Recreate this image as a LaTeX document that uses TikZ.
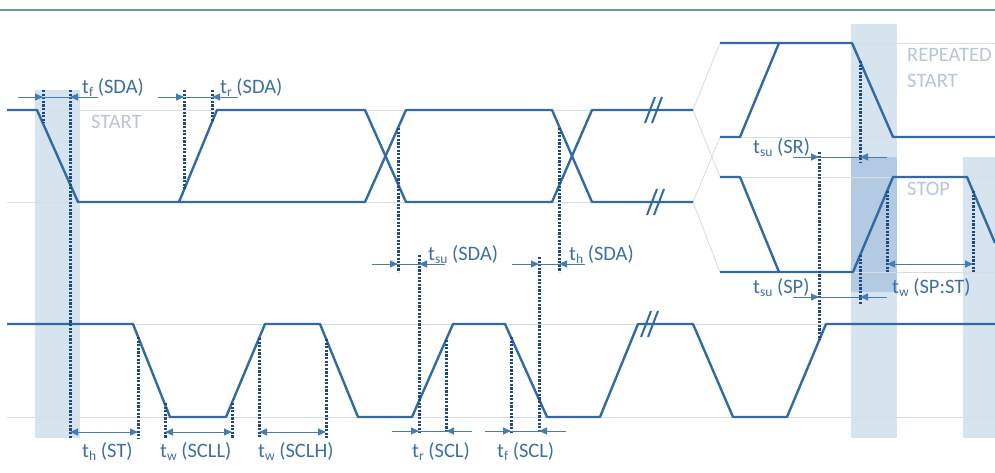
\documentclass[tikz,border=0pt]{standalone}
\usepackage{fontspec}
\setmainfont{Carlito}
\usetikzlibrary{arrows.meta}
\definecolor{sig}{RGB}{50,106,163}
\definecolor{dotc}{RGB}{30,72,128}
\definecolor{dimc}{RGB}{70,124,178}
\definecolor{refc}{RGB}{214,221,229}
\definecolor{txtc}{RGB}{62,110,162}
\definecolor{lblc}{RGB}{182,198,216}
\definecolor{shadeL}{RGB}{214,228,240}
\definecolor{shadeD}{RGB}{178,202,226}
\definecolor{topc}{RGB}{110,150,160}
\newcommand\sbt[1]{\raisebox{-3.5pt}{\fontsize{13.5}{14}\selectfont #1}}
\newcommand\dimout[5]{%
  \draw[dimline] (#2,#1)--(#5,#1);
  \draw[dimline,-{Triangle[length=8pt,width=7pt]}] (#2,#1)--(#3,#1);
  \draw[dimline,-{Triangle[length=8pt,width=7pt]}] (#5,#1)--(#4,#1);}
\newcommand\dimin[3]{%
  \draw[dimline,{Triangle[length=8pt,width=7pt]}-{Triangle[length=8pt,width=7pt]}] (#2,#1)--(#3,#1);}
\newcommand\brk[2]{%
  \draw[sigline,line width=2pt] (#1-5,#2+13)--(#1+5,#2-13);
  \draw[sigline,line width=2pt] (#1+2,#2+13)--(#1+12,#2-13);}
\begin{document}
\begin{tikzpicture}[x=1pt,y=-1pt,
  sigline/.style={draw=sig,line width=2.4pt,line join=round},
  refline/.style={draw=refc,line width=0.9pt},
  dotline/.style={draw=dotc,line width=3pt,dash pattern=on 2.2pt off 1.4pt},
  dimline/.style={draw=dimc,line width=1pt},
  lab/.style={anchor=base west,inner sep=0pt,text=txtc,font=\fontsize{20.5}{24}\selectfont},
  glab/.style={anchor=base west,inner sep=0pt,text=lblc,font=\fontsize{20.5}{24}\selectfont}]
\useasboundingbox (0,0) rectangle (995,472);
% shaded regions
\fill[shadeL] (35,90) rectangle (80,438);
\fill[shadeL] (851,24) rectangle (897,438);
\fill[shadeD] (851,157) rectangle (897,292);
\fill[shadeL] (963,157) rectangle (995,438);
% top rule
\draw[topc,line width=1.2pt] (0,10)--(995,10);
% reference lines
\draw[refline] (7,110)--(693,110);
\draw[refline] (7,202)--(693,202);
\draw[refline] (720,43)--(995,43);
\draw[refline] (720,137)--(995,137);
\draw[refline] (720,177)--(995,177);
\draw[refline] (720,272)--(995,272);
\draw[refline] (7,324)--(995,324);
\draw[refline] (7,417)--(995,417);
\draw[refline] (693,110)--(720,43);
\draw[refline] (693,110)--(720,177);
\draw[refline] (693,202)--(720,137);
\draw[refline] (693,202)--(720,272);
% SDA
\draw[sigline] (7,110)--(37,110)--(78,202)--(365,202)--(406,110)--(552,110)--(592,202)--(693,202);
\draw[sigline] (179,202)--(217,110)--(365,110)--(406,202)--(552,202)--(592,110)--(693,110);
\brk{650}{110}
\brk{652}{202}
% repeated start
\draw[sigline] (720,43)--(852,43)--(893,137)--(995,137);
\draw[sigline] (720,137)--(740,137)--(779,43);
% stop
\draw[sigline] (720,272)--(853,272)--(893,177)--(967,177)--(995,243);
\draw[sigline] (720,177)--(740,177)--(779,272);
% SCL
\draw[sigline] (7,324)--(133,324)--(170,417)--(226,417)--(265,324)--(320,324)--(358,417)--(412,417)--(453,324)--(505,324)--(547,417)--(600,417)--(638,324)--(693,324)--(733,417)--(787,417)--(826,324)--(995,324);
\brk{646}{324}
% dotted lines
\draw[dotline] (43,90)--(43,123);
\draw[dotline] (70,90)--(70,438);
\draw[dotline] (184,90)--(184,190);
\draw[dotline] (212,90)--(212,122);
\draw[dotline] (398,128)--(398,272);
\draw[dotline] (419,255)--(419,433);
\draw[dotline] (559,128)--(559,272);
\draw[dotline] (539,257)--(539,433);
\draw[dotline] (446,340)--(446,433);
\draw[dotline] (511,337)--(511,433);
\draw[dotline] (138,337)--(138,438);
\draw[dotline] (165,403)--(165,438);
\draw[dotline] (232,403)--(232,438);
\draw[dotline] (259,338)--(259,438);
\draw[dotline] (326,339)--(326,438);
\draw[dotline] (819,152)--(819,340);
\draw[dotline] (860,61)--(860,163);
\draw[dotline] (860,255)--(860,305);
\draw[dotline] (887,191)--(887,272);
\draw[dotline] (973,191)--(973,272);
% dimension arrows
\dimout{97}{18}{43}{70}{98}
\dimout{97}{158}{184}{212}{238}
\dimout{264}{372}{398}{419}{445}
\dimout{264}{512}{539}{559}{585}
\dimout{431}{392}{419}{446}{472}
\dimout{431}{485}{511}{539}{566}
\dimin{432}{70}{138}
\dimin{432}{165}{232}
\dimin{432}{259}{326}
\dimout{157}{793}{819}{860}{887}
\dimout{297}{793}{819}{860}{887}
\dimin{264}{887}{973}
% labels
\node[lab] (tfsda) at (82,93) {t\sbt{f} (SDA)};
\node[lab] (trsda) at (220,93) {t\sbt{r} (SDA)};
\node[lab] (tsusda) at (428,260) {t\sbt{su} (SDA)};
\node[lab] (thsda) at (569,260) {t\sbt{h} (SDA)};
\node[lab] (thst) at (82,457) {t\sbt{h} (ST)};
\node[lab] (twscll) at (160,457) {t\sbt{w} (SCLL)};
\node[lab] (twsclh) at (258,457) {t\sbt{w} (SCLH)};
\node[lab] (trscl) at (412,457) {t\sbt{r} (SCL)};
\node[lab] (tfscl) at (497,457) {t\sbt{f} (SCL)};
\node[lab] (tsusr) at (753,153) {t\sbt{su} (SR)};
\node[lab] (tsusp) at (753,293) {t\sbt{su} (SP)};
\node[lab] (twspst) at (892,293) {t\sbt{w} (SP:ST)};
\node[glab] (start) at (91,128) {START};
\node[glab] (rep) at (907,61) {REPEATED};
\node[glab] (rstart) at (907,87) {START};
\node[glab] (stop) at (907,195) {STOP};
\end{tikzpicture}
\end{document}
